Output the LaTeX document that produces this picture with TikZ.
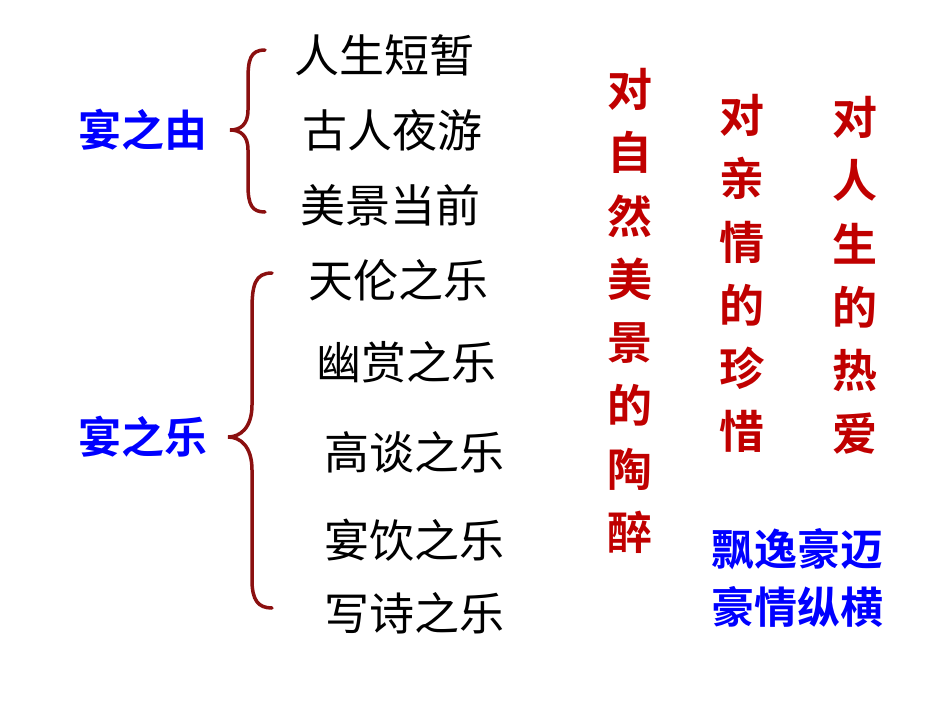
\documentclass[tikz,border=0pt]{standalone}
\usepackage{fontspec}
\newfontfamily\cjk{Noto Sans CJK SC}
\newfontfamily\cjkb{Noto Sans CJK SC Bold}
\definecolor{dred}{HTML}{C00000}
\definecolor{bred}{HTML}{8B1010}
\definecolor{blu}{HTML}{0000FF}
\begin{document}
\begin{tikzpicture}[x=1pt,y=-1pt,
  item/.style={font=\cjk\fontsize{45}{48}\selectfont, text=black, inner sep=0},
  lab/.style={font=\cjkb\fontsize{43}{48}\selectfont, text=blu, inner sep=0},
  col/.style={font=\cjkb\fontsize{45}{63.3}\selectfont, text=dred, inner sep=0, align=center, text width=50pt},
  brace/.style={draw=bred, line width=3.5pt, line cap=round}]
\useasboundingbox (0,0) rectangle (950,713);
\fill[white] (0,0) rectangle (950,713);
\node[lab] (you) at (143,130) {宴之由};
\node[lab] (le) at (143,437) {宴之乐};
\node[item] (a1) at (384,55) {人生短暂};
\node[item] (a2) at (392,130) {古人夜游};
\node[item] (a3) at (390,205) {美景当前};
\node[item] (b1) at (398,280) {天伦之乐};
\node[item] (b2) at (406,362) {幽赏之乐};
\node[item] (b3) at (414,452) {高谈之乐};
\node[item] (b4) at (414,540) {宴饮之乐};
\node[item] (b5) at (414,613) {写诗之乐};
\node[col,anchor=north] (c1) at (630,68) {对\\自\\然\\美\\景\\的\\陶\\醉};
\node[col,anchor=north] (c2) at (742,94) {对\\亲\\情\\的\\珍\\惜};
\node[col,anchor=north] (c3) at (855,96) {对\\人\\生\\的\\热\\爱};
\node[lab,font=\cjkb\fontsize{43}{58}\selectfont,align=center] (d) at (797,578) {飘逸豪迈\\豪情纵横};
\coordinate (t1) at (230,130);
\coordinate (t2) at (228,437);
\draw[brace] (265,50) .. controls (250,50) and (248,60) .. (248,80) -- (248,110) .. controls (248,125) and (240,130) .. (t1) .. controls (240,130) and (248,135) .. (248,150) -- (248,185) .. controls (248,205) and (252,212) .. (265,212);
\draw[brace] (272,273) .. controls (255,273) and (252,285) .. (252,310) -- (252,405) .. controls (252,428) and (240,437) .. (t2) .. controls (240,437) and (252,446) .. (252,470) -- (252,580) .. controls (252,600) and (258,608) .. (272,608);
\end{tikzpicture}
\end{document}
